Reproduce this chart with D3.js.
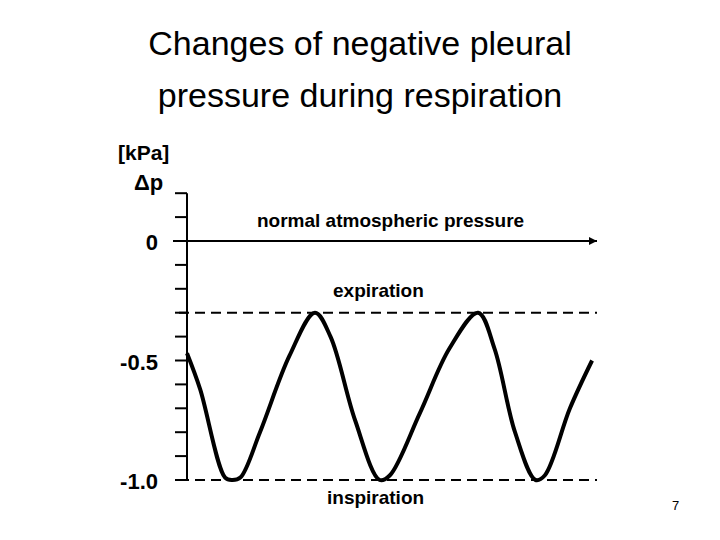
<!DOCTYPE html>
<html><head><meta charset="utf-8">
<script src="https://cdn.jsdelivr.net/npm/d3@7"></script>
<style>body{margin:0;background:#fff}</style></head>
<body><svg id="c" width="720" height="540"></svg>
<script>
// time (arbitrary units) and pleural pressure (kPa)
const time = [0, 0.32, 0.93, 1.1, 1.3, 1.78, 2.5, 3.12, 3.5, 4.1, 4.7, 4.95, 5.68, 6.4, 7.1, 7.5, 8.0, 8.5, 8.73, 9.34, 9.88];
const pressure = [-0.47, -0.62, -0.99, -1.0, -0.99, -0.8, -0.48, -0.3, -0.4, -0.75, -1.0, -0.98, -0.72, -0.45, -0.3, -0.45, -0.8, -1.0, -0.98, -0.7, -0.5];
const tickValues = d3.range(0.2, -1.01, -0.1);
const labelTicks = [0, -0.5, -1.0];
const expiration = -0.3, inspiration = -1.0;

const svg = d3.select('#c');
const x = d3.scaleLinear().domain([0, 10]).range([187, 597]);
const y = d3.scaleLinear().domain([0, -1]).range([241, 480]);

svg.append('text').attr('x', 360).attr('y', 55).attr('text-anchor', 'middle')
  .attr('font-family', 'Liberation Sans, Arial').attr('font-size', 34).text('Changes of negative pleural');
svg.append('text').attr('x', 360).attr('y', 107).attr('text-anchor', 'middle')
  .attr('font-family', 'Liberation Sans, Arial').attr('font-size', 34).text('pressure during respiration');

const g = svg.append('g').attr('font-family', 'Liberation Sans, Arial').attr('font-weight', 'bold');

// axis
g.append('line').attr('x1', x(0)).attr('x2', x(0)).attr('y1', y(0.2)).attr('y2', y(-1))
  .attr('stroke', '#000').attr('stroke-width', 2);
g.selectAll('.tk').data(tickValues).join('line')
  .attr('x1', x(0) - 12).attr('x2', x(0)).attr('y1', d => y(d)).attr('y2', d => y(d))
  .attr('stroke', '#000').attr('stroke-width', 2);
g.selectAll('.lb').data(labelTicks).join('text')
  .attr('x', 158).attr('y', d => y(d) + 9).attr('text-anchor', 'end')
  .attr('font-size', 22).text(d => d === 0 ? '0' : d.toFixed(1));
g.append('text').attr('x', 118).attr('y', 160).attr('font-size', 21).text('[kPa]');
g.append('text').attr('x', 134).attr('y', 190).attr('font-size', 22).text('Δp');

// reference lines
g.append('line').attr('x1', x(0) - 14).attr('x2', x(10)).attr('y1', y(0)).attr('y2', y(0))
  .attr('stroke', '#000').attr('stroke-width', 2);
g.append('path').attr('d', `M${x(10)},${y(0)}l-8,-4l0,8z`).attr('fill', '#000');
[expiration, inspiration].forEach(v => g.append('line')
  .attr('x1', x(0) - 8).attr('x2', x(10)).attr('y1', y(v)).attr('y2', y(v))
  .attr('stroke', '#000').attr('stroke-width', 2).attr('stroke-dasharray', '10,6'));

g.append('text').attr('x', 257).attr('y', 227).attr('font-size', 19).text('normal atmospheric pressure');
g.append('text').attr('x', 333).attr('y', 297).attr('font-size', 19).text('expiration');
g.append('text').attr('x', 327).attr('y', 504).attr('font-size', 19).text('inspiration');

const line = d3.line().x((d, i) => x(time[i])).y(d => y(d)).curve(d3.curveCatmullRom);
g.append('path').attr('d', line(pressure)).attr('fill', 'none').attr('stroke', '#000').attr('stroke-width', 4);

svg.append('text').attr('x', 672).attr('y', 510).attr('font-family', 'Liberation Sans, Arial')
  .attr('font-size', 13).text('7');
</script></body></html>
